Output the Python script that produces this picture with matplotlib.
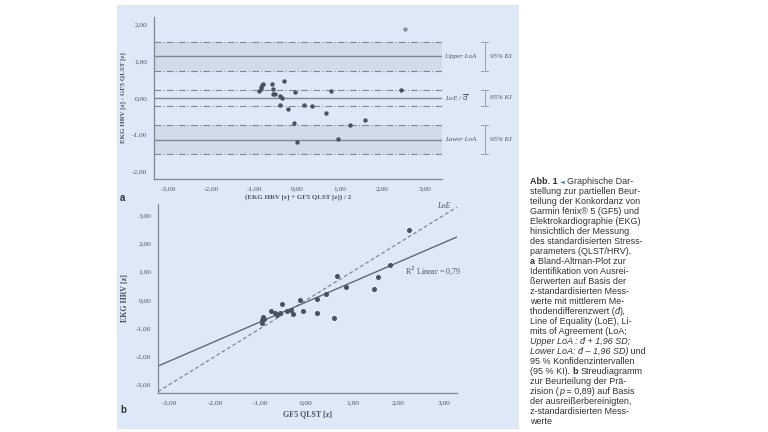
"""Bland-Altman plot and scatter plot for GF5 QLST vs. EKG HRV (z-scores)."""

import matplotlib
matplotlib.use("Agg")
import matplotlib.pyplot as plt
from matplotlib.patches import Rectangle
import numpy as np

# --- data -------------------------------------------------------------------
ba_mean = [-0.88, -0.85, -0.83, -0.81, -0.79, -0.59, -0.57, -0.56, -0.52, -0.31,
           -0.40, -0.35, -0.39, -0.22, -0.05, -0.08, 0.01, 0.16, 0.35, 0.68,
           0.80, 0.96, 1.25, 1.59, 2.44]
ba_diff = [0.19, 0.25, 0.30, 0.34, 0.37, 0.38, 0.25, 0.11, 0.11, 0.45,
           0.05, 0.00, -0.19, -0.31, 0.17, -0.67, -1.20, -0.20, -0.21, -0.42,
           0.20, -1.10, -0.73, -0.60, 0.23]
outlier = (2.52, 1.88)

mean_diff = 0.0
mean_ci = (-0.22, 0.23)
upper_loa = 1.14
upper_ci = (0.74, 1.53)
lower_loa = -1.13
lower_ci = (-1.53, -0.74)

gf5 = [2.25, 1.83, 1.56, 1.48, 0.86, 0.67, 0.43, 0.23, 0.23, 0.59, -0.15, -0.07,
       -0.53, -0.30, -0.34, -0.42, -0.59, -0.64, -0.69, -0.77, -0.95, -0.97,
       -0.97, -0.93]
ekg = [2.49, 1.23, 0.81, 0.38, 0.44, 0.84, 0.21, 0.04, -0.45, -0.63, -0.01, -0.40,
       -0.13, -0.50, -0.37, -0.39, -0.48, -0.54, -0.46, -0.41, -0.60, -0.72,
       -0.81, -0.69]
fit_slope = 0.70
fit_intercept = -0.07
r2_text = "R$^2$ Linear = 0,79"

ticks = [-3, -2, -1, 0, 1, 2, 3]
ticks_a_y = [-2, -1, 0, 1, 2]

caption = [
    [("Abb. 1 ", "bold"), ("\u25c4 ", "arrow"), ("Graphische Dar-", "normal")],
    [("stellung zur partiellen Beur-", "normal")],
    [("teilung der Konkordanz von", "normal")],
    [("Garmin f\u0113nix\u00ae 5 (GF5) und", "normal")],
    [("Elektrokardiographie (EKG)", "normal")],
    [("hinsichtlich der Messung", "normal")],
    [("des standardisierten Stress-", "normal")],
    [("parameters (QLST/HRV).", "normal")],
    [("a ", "bold"), ("Bland-Altman-Plot zur", "normal")],
    [("Identifikation von Ausrei-", "normal")],
    [("\u00dferwerten auf Basis der", "normal")],
    [("z-standardisierten Mess-", "normal")],
    [("werte mit mittlerem Me-", "normal")],
    [("thodendifferenzwert (", "normal"), ("d\u0304", "italic"), ("),", "normal")],
    [("Line of Equality (LoE), Li-", "normal")],
    [("mits of Agreement (LoA;", "normal")],
    [("Upper LoA : ", "italic"), ("d\u0304", "italic"), (" + 1,96 SD;", "italic")],
    [("Lower LoA: ", "italic"), ("d\u0304", "italic"), (" \u2013 1,96 SD)", "italic"), (" und", "normal")],
    [("95 % Konfidenzintervallen", "normal")],
    [("(95 % KI). ", "normal"), ("b ", "bold"), ("Streudiagramm", "normal")],
    [("zur Beurteilung der Pr\u00e4-", "normal")],
    [("zision (", "normal"), ("p", "italic"), (" = 0,89) auf Basis", "normal")],
    [("der ausrei\u00dferbereinigten,", "normal")],
    [("z-standardisierten Mess-", "normal")],
    [("werte", "normal")],
]

# --- style ------------------------------------------------------------------
panel_bg = "#dde9f6"
band_bg = "#d0dce8"
grey = "#7d8893"
dot = "#47525d"
txt = "#4a5560"
serif = ["Liberation Serif", "DejaVu Serif"]
cap_font = ["Liberation Sans Narrow", "Liberation Sans", "DejaVu Sans"]

fig = plt.figure(figsize=(7.68, 4.32), dpi=100)
fig.patches.append(Rectangle((117 / 768, 1 - 429 / 432), 402 / 768, 424 / 432,
                             transform=fig.transFigure, facecolor=panel_bg,
                             edgecolor="none", zorder=-10))


def style_axes(ax):
    ax.set_facecolor("none")
    ax.set_zorder(2)
    for s in ("top", "right"):
        ax.spines[s].set_visible(False)
    for s in ("left", "bottom"):
        ax.spines[s].set_color(grey)
        ax.spines[s].set_linewidth(0.9)
    ax.tick_params(length=0, labelsize=5.3, labelcolor=txt, pad=5)
    for lab in ax.get_xticklabels() + ax.get_yticklabels():
        lab.set_family(serif)


def fmt(v):
    return f"{v:.2f}".replace(".", ",")


# --- a: Bland-Altman --------------------------------------------------------
ax1 = fig.add_axes([154 / 768, 1 - 179 / 432, 288 / 768, 162 / 432])
ax1.set_xlim(-3.34, 3.39)
ax1.set_ylim(-2.2, 2.2)
ax1.set_xticks(ticks, [fmt(t) for t in ticks])
ax1.set_yticks(ticks_a_y, [fmt(t) for t in ticks_a_y])
style_axes(ax1)

for lo, hi in (upper_ci, lower_ci):
    ax1.axhspan(lo, hi, color=band_bg, lw=0, zorder=0)
for y in (*upper_ci, *mean_ci, *lower_ci):
    ax1.axhline(y, color=grey, lw=0.8, ls=(0, (6, 2, 1, 2)), zorder=1)
for y in (upper_loa, mean_diff, lower_loa):
    ax1.axhline(y, color=grey, lw=1.0, zorder=1)

ax1.scatter(ba_mean, ba_diff, s=10, color=dot, zorder=3, lw=0)
ax1.scatter([outlier[0]], [outlier[1]], s=10, color="#8a939c", zorder=3, lw=0)

lab_kw = dict(fontsize=5, color=txt, family=serif, style="italic",
              va="center", ha="left", clip_on=False)
ax1.text(3.46, upper_loa, "Upper LoA", **lab_kw)
ax1.text(3.46, mean_diff, r"LoE / $\overline{d}$", **lab_kw)
ax1.text(3.46, lower_loa, "Lower LoA", **lab_kw)
for lo, hi in (upper_ci, mean_ci, lower_ci):
    ax1.plot([4.39, 4.39], [lo, hi], color="#9aa4ad", lw=0.7, clip_on=False)
    for y in (lo, hi):
        ax1.plot([4.31, 4.47], [y, y], color="#9aa4ad", lw=0.7, clip_on=False)
    ax1.text(4.50, (lo + hi) / 2, "95% KI", **lab_kw)

ax1.set_ylabel("EKG HRV [z] - GF5 QLST [z]", fontsize=5, color=txt,
               family=serif, fontweight="bold", labelpad=4)
ax1.set_xlabel("(EKG HRV [z] + GF5 QLST [z]) / 2", fontsize=5, color=txt,
               family=serif, fontweight="bold", labelpad=2)
fig.text(120 / 768, 1 - 198 / 432, "a", fontsize=7, fontweight="bold",
         color="#333333", va="center", family=["Liberation Sans", "DejaVu Sans"])

# --- b: scatter -------------------------------------------------------------
ax2 = fig.add_axes([158 / 768, 1 - 393 / 432, 299 / 768, 189 / 432])
ax2.set_xlim(-3.25, 3.29)
ax2.set_ylim(-3.30, 3.40)
ax2.set_xticks(ticks, [fmt(t) for t in ticks])
ax2.set_yticks(ticks, [fmt(t) for t in ticks])
style_axes(ax2)

xx = np.array(ax2.get_xlim())
ax2.plot(xx, xx, color=grey, lw=0.9, ls=(0, (3, 2)), zorder=1)
ax2.plot(xx, fit_intercept + fit_slope * xx, color="#5f6a74", lw=1.0, zorder=2)
ax2.scatter(gf5, ekg, s=13, color=dot, zorder=3, lw=0)
ax2.text(2.16, 1.05, r2_text, fontsize=5.8, color=txt, family=serif,
         va="center", ha="left")
ax2.text(2.85, 3.33, "LoE", fontsize=5.8, color=txt, family=serif,
         style="italic", va="center", ha="left")

ax2.set_ylabel("EKG HRV [z]", fontsize=5.8, color=txt, family=serif,
               fontweight="bold", labelpad=5)
ax2.set_xlabel("GF5 QLST [z]", fontsize=5.8, color=txt, family=serif,
               fontweight="bold", labelpad=4)
fig.text(120 / 768, 1 - 410 / 432, "b", fontsize=7, fontweight="bold",
         color="#333333", va="center", family=["Liberation Sans", "DejaVu Sans"])

# --- caption ----------------------------------------------------------------
renderer = fig.canvas.get_renderer()
x0, y0, step = 530, 182, 9.96
for i, line in enumerate(caption):
    x = x0
    y = 1 - (y0 + i * step) / 432
    for seg, kind in line:
        kw = dict(fontsize=6.5, color="#333333", va="center", ha="left",
                  family=cap_font)
        if kind == "bold":
            kw["fontweight"] = "bold"
        elif kind == "italic":
            kw["style"] = "italic"
        elif kind == "arrow":
            kw["color"] = "#3d7fc1"
            kw["fontsize"] = 4.5
            kw["family"] = ["DejaVu Sans"]
        t = fig.text(x / 768, y, seg, **kw)
        x += t.get_window_extent(renderer).width

fig.savefig("out.png", dpi=100)
